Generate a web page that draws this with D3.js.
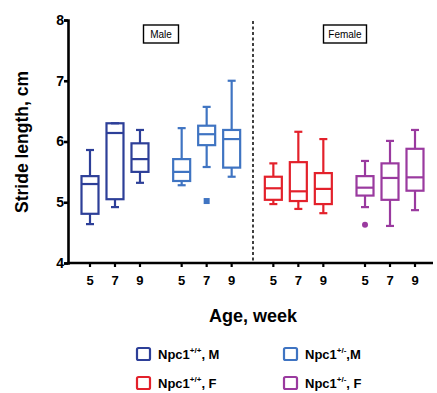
<!DOCTYPE html>
<html>
<head>
<meta charset="utf-8">
<script src="https://cdn.jsdelivr.net/npm/d3@7"></script>
<style>
  body { margin: 0; background: #fff; }
  text { font-family: Arial, "Liberation Sans", sans-serif; }
</style>
</head>
<body>
<div id="chart"></div>
<script>
// data: [whiskerLow, q1, median, q3, whiskerHigh]
var groups = ["Npc1+/+, M", "Npc1+/-, M", "Npc1+/+, F", "Npc1+/-, F"];
var ages = [5, 7, 9];
var wtMale = [[4.64, 4.81, 5.30, 5.43, 5.86], [4.92, 5.05, 6.14, 6.30, 6.30], [5.32, 5.50, 5.71, 5.97, 6.19]];
var hetMale = [[5.28, 5.35, 5.50, 5.71, 6.22], [5.58, 5.94, 6.12, 6.26, 6.57], [5.42, 5.57, 6.04, 6.19, 7.00]];
var wtFemale = [[4.97, 5.04, 5.23, 5.42, 5.64], [4.89, 5.02, 5.18, 5.66, 6.16], [4.82, 4.97, 5.22, 5.48, 6.04]];
var hetFemale = [[4.92, 5.11, 5.24, 5.43, 5.68], [4.61, 5.04, 5.40, 5.64, 6.01], [4.87, 5.19, 5.41, 5.88, 6.19]];
// outliers: [group index, age index, value]
var outliers = [[1, 1, 5.02], [3, 0, 4.63]];
var yTicks = [4, 5, 6, 7, 8];
var colors = ["#2d3f98", "#3f74c2", "#e3212b", "#9a3a9f"];

var allSeries = [wtMale, hetMale, wtFemale, hetFemale];

var svgWidth = 437, svgHeight = 393;
var svg = d3.select("#chart").append("svg")
  .attr("width", svgWidth)
  .attr("height", svgHeight);

var yScale = d3.scaleLinear().domain([4, 8]).range([263, 20]);

// one band per group, inner band per age
var groupScale = d3.scaleBand().domain(d3.range(4)).range([77.5, 427.5]).paddingInner(0.182).paddingOuter(0);
var ageScale = d3.scalePoint().domain(ages).range([0, groupScale.bandwidth()]).padding(0.5);

function xPos(g, a) {
  return groupScale(g) + ageScale(ages[a]);
}

// y axis
var yAxis = svg.append("g")
  .attr("transform", "translate(68,0)")
  .call(d3.axisLeft(yScale).tickValues(yTicks).tickSize(4).tickFormat(d3.format("d")));
yAxis.select(".domain").attr("stroke", "#000").attr("stroke-width", 2.6);
yAxis.selectAll(".tick line").attr("stroke-width", 2.6);
yAxis.selectAll(".tick text").attr("font-size", 14).attr("font-weight", "bold").attr("x", -4);

// x axis line and ticks
var xTickData = [];
allSeries.forEach(function(s, g) {
  ages.forEach(function(a, i) { xTickData.push({ g: g, i: i, label: a }); });
});
svg.append("line")
  .attr("x1", 67).attr("x2", 433)
  .attr("y1", yScale(4)).attr("y2", yScale(4))
  .attr("stroke", "#000").attr("stroke-width", 2.6);
svg.selectAll(".xtick").data(xTickData).enter().append("line")
  .attr("x1", d => xPos(d.g, d.i)).attr("x2", d => xPos(d.g, d.i))
  .attr("y1", yScale(4)).attr("y2", yScale(4) + 4)
  .attr("stroke", "#000").attr("stroke-width", 2.2);
svg.selectAll(".xlabel").data(xTickData).enter().append("text")
  .attr("x", d => xPos(d.g, d.i))
  .attr("y", 285)
  .attr("text-anchor", "middle")
  .attr("font-size", 13).attr("font-weight", "bold")
  .text(d => d.label);

// dashed divider between male and female
svg.append("line")
  .attr("x1", 253).attr("x2", 253)
  .attr("y1", 21).attr("y2", yScale(4))
  .attr("stroke", "#000").attr("stroke-width", 1.5)
  .attr("stroke-dasharray", "3,2.5");

// boxes
var boxW = 17, capW = 8;
allSeries.forEach(function(series, g) {
  var grp = svg.append("g")
    .attr("stroke", colors[g]).attr("stroke-width", 2.2).attr("fill", "none");
  series.forEach(function(d, i) {
    var x = xPos(g, i);
    grp.append("line").attr("x1", x).attr("x2", x).attr("y1", yScale(d[4])).attr("y2", yScale(d[3]));
    grp.append("line").attr("x1", x).attr("x2", x).attr("y1", yScale(d[1])).attr("y2", yScale(d[0]));
    grp.append("line").attr("x1", x - capW / 2).attr("x2", x + capW / 2).attr("y1", yScale(d[4])).attr("y2", yScale(d[4]));
    grp.append("line").attr("x1", x - capW / 2).attr("x2", x + capW / 2).attr("y1", yScale(d[0])).attr("y2", yScale(d[0]));
    grp.append("rect")
      .attr("x", x - boxW / 2).attr("width", boxW)
      .attr("y", yScale(d[3])).attr("height", yScale(d[1]) - yScale(d[3]));
    grp.append("line").attr("x1", x - boxW / 2).attr("x2", x + boxW / 2).attr("y1", yScale(d[2])).attr("y2", yScale(d[2]));
  });
});

// outliers
outliers.forEach(function(o) {
  var x = xPos(o[0], o[1]);
  if (o[0] === 1) {
    svg.append("rect").attr("x", x - 3).attr("y", yScale(o[2]) - 3)
      .attr("width", 6).attr("height", 6).attr("fill", colors[o[0]]);
  } else {
    svg.append("circle").attr("cx", x).attr("cy", yScale(o[2])).attr("r", 3).attr("fill", colors[o[0]]);
  }
});

// panel labels
function panelLabel(cx, label, w) {
  svg.append("rect").attr("x", cx - w / 2).attr("y", 25).attr("width", w).attr("height", 18)
    .attr("fill", "#fff").attr("stroke", "#000").attr("stroke-width", 1.4);
  svg.append("text").attr("x", cx).attr("y", 38).attr("text-anchor", "middle")
    .attr("font-size", 10).text(label);
}
panelLabel(161, "Male", 35);
panelLabel(345, "Female", 43);

// axis titles
svg.append("text")
  .attr("transform", "translate(28,142) rotate(-90)")
  .attr("text-anchor", "middle")
  .attr("font-size", 17.5).attr("font-weight", "bold")
  .text("Stride length, cm");
svg.append("text")
  .attr("x", 253).attr("y", 322)
  .attr("text-anchor", "middle")
  .attr("font-size", 18).attr("font-weight", "bold")
  .text("Age, week");

// legend
var legendItems = [
  { c: 0, x: 137, y: 354, sup: "+/+", tail: ", M" },
  { c: 1, x: 284, y: 354, sup: "+/-", tail: ",M" },
  { c: 2, x: 137, y: 383, sup: "+/+", tail: ", F" },
  { c: 3, x: 284, y: 383, sup: "+/-", tail: ", F" }
];
legendItems.forEach(function(d) {
  svg.append("rect").attr("x", d.x).attr("y", d.y - 6).attr("width", 13).attr("height", 12)
    .attr("rx", 1.5).attr("fill", "none").attr("stroke", colors[d.c]).attr("stroke-width", 2.2);
  var t = svg.append("text").attr("x", d.x + 21).attr("y", d.y + 5)
    .attr("font-size", 13).attr("font-weight", "bold");
  t.append("tspan").text("Npc1");
  t.append("tspan").attr("dy", -6).attr("font-size", 8).text(d.sup);
  t.append("tspan").attr("dy", 6).text(d.tail);
});
</script>
</body>
</html>
